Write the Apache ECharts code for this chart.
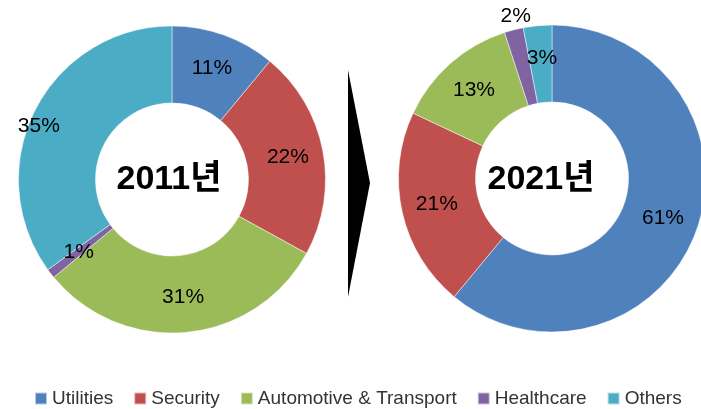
<!DOCTYPE html>
<html><head><meta charset="utf-8">
<script src="https://cdn.jsdelivr.net/npm/echarts@6/dist/echarts.min.js"></script>
<style>html,body{margin:0;padding:0;background:#fff}#c{width:701px;height:409px}</style>
</head><body><div id="c"></div>
<script>
const categories = ['Utilities', 'Security', 'Automotive & Transport', 'Healthcare', 'Others'];
const values2011 = [11, 22, 31, 1, 35];
const values2021 = [61, 21, 13, 2, 3];
const titles = ['2011년', '2021년'];
const colors = ['#4F81BD', '#C0504D', '#9BBB59', '#8064A2', '#4BACC6'];

const FONT = 'Liberation Sans, "Noto Sans CJK KR", sans-serif';
const chart = echarts.init(document.getElementById('c'), null, {renderer: 'canvas'});

function pieSeries(name, vals, center, shifts) {
  return {
    type: 'pie', name: name, center: center, radius: [76.5, 153.5],
    startAngle: 90, clockwise: true, animation: false, silent: true,
    avoidLabelOverlap: false,
    itemStyle: {borderColor: 'rgba(255,255,255,0.6)', borderWidth: 0.8},
    label: {show: true, position: 'inside', formatter: '{c}%', color: '#000',
            fontFamily: FONT, fontSize: 21},
    labelLine: {show: false},
    labelLayout: function (p) { const s = shifts[p.dataIndex]; return s ? {dx: s[0], dy: s[1]} : {}; },
    data: categories.map((c, i) => ({name: c, value: vals[i]}))
  };
}

chart.setOption({
  color: colors,
  legend: {
    data: categories, top: 384, left: 29, icon: 'rect',
    itemWidth: 12, itemHeight: 12, itemGap: 20,
    textStyle: {fontFamily: FONT, fontSize: 19, color: '#333'}
  },
  graphic: [
    {type: 'polygon', shape: {points: [[348, 70], [370, 183], [348, 297]]}, style: {fill: '#000'}},
    {type: 'text', x: 169, y: 180, style: {text: titles[0], font: 'bold 34px ' + FONT, fill: '#000', textAlign: 'center', textVerticalAlign: 'middle'}, z: 10},
    {type: 'text', x: 541, y: 180, style: {text: titles[1], font: 'bold 34px ' + FONT, fill: '#000', textAlign: 'center', textVerticalAlign: 'middle'}, z: 10}
  ],
  series: [
    pieSeries('2011', values2011, [172, 179.5], {4: [-28, 0]}),
    pieSeries('2021', values2021, [552, 178.5], {3: [-7, -48], 4: [1, -3]})
  ]
});
</script></body></html>
